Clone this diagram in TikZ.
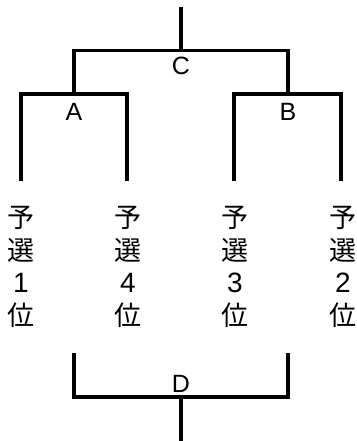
\documentclass[tikz,border=0pt]{standalone}
\usepackage{fontspec}
\setmainfont{Liberation Sans}
\newfontfamily\jp{Noto Sans CJK JP}
\begin{document}
\begin{tikzpicture}[x=1pt,y=-1pt,
  br/.style={line width=3.4pt},
  lbl/.style={font=\fontsize{25}{25}\selectfont, inner sep=0pt},
  cj/.style={font=\jp\fontsize{27}{27}\selectfont, inner sep=0pt},
  dg/.style={font=\fontsize{28}{28}\selectfont, inner sep=0pt}]
\useasboundingbox (0,0) rectangle (356,441);
% coordinates
\coordinate (top) at (181,7);
\coordinate (cm) at (181,50.5);
\coordinate (cl) at (74,50.5);
\coordinate (cr) at (288,50.5);
\coordinate (al) at (21,94);
\coordinate (ar) at (127,94);
\coordinate (am) at (74,94);
\coordinate (bl) at (234,94);
\coordinate (br) at (341,94);
\coordinate (bm) at (288,94);
\coordinate (a1) at (21,181);
\coordinate (a2) at (127,181);
\coordinate (b1) at (234,181);
\coordinate (b2) at (341,181);
\coordinate (dl) at (74,353);
\coordinate (dr) at (288,353);
\coordinate (dlb) at (74,397);
\coordinate (drb) at (288,397);
\coordinate (dm) at (181,397);
\coordinate (bot) at (181,441);
% brackets
\draw[br] (top) -- (cm);
\draw[br] (am) -- (cl) -- (cr) -- (bm);
\draw[br] (a1) -- (al) -- (ar) -- (a2);
\draw[br] (b1) -- (bl) -- (br) -- (b2);
\draw[br] (dl) -- (dlb) -- (drb) -- (dr);
\draw[br] (dm) -- (bot);
% labels
\node[lbl] (C) at (181,66) {C};
\node[lbl] (A) at (74,112) {A};
\node[lbl] (B) at (288,112) {B};
\node[lbl] (D) at (181,383.5) {D};
% seeds
\foreach \x/\n in {21/1, 128/4, 235/3, 343/2} {
  \node[cj] (yo\n) at (\x,217.5) {予};
  \node[cj] (sen\n) at (\x,250) {選};
  \node[dg] (num\n) at (\x,282.5) {\n};
  \node[cj] (i\n) at (\x,315) {位};
}
\end{tikzpicture}
\end{document}
